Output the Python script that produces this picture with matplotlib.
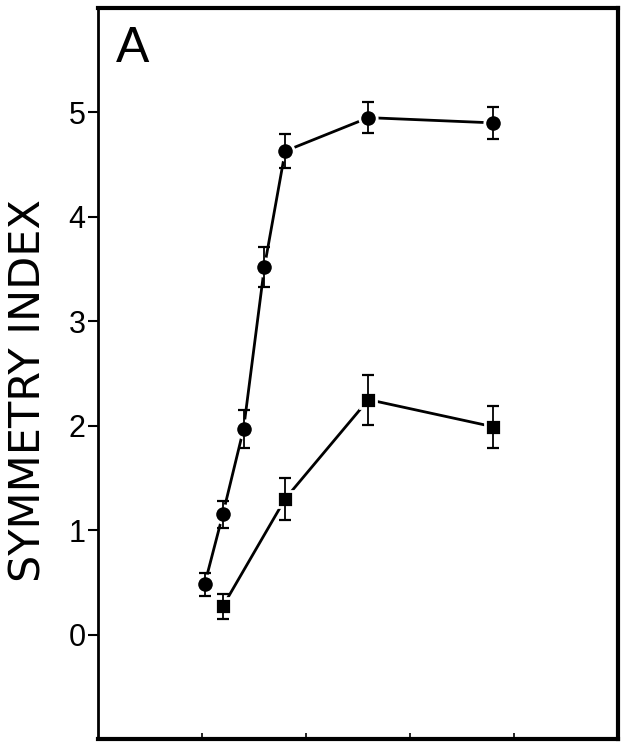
import matplotlib
matplotlib.use("Agg")
import matplotlib.pyplot as plt

# Time points (days) and symmetry index values
days_circle = [0.25, 2, 4, 6, 8, 16, 28]
sym_circle = [0.48, 1.15, 1.97, 3.52, 4.63, 4.95, 4.90]
err_circle = [0.11, 0.13, 0.18, 0.19, 0.16, 0.15, 0.15]

days_square = [2, 8, 16, 28]
sym_square = [0.27, 1.30, 2.25, 1.99]
err_square = [0.12, 0.20, 0.24, 0.20]

y_ticks = [0, 1, 2, 3, 4, 5]
x_ticks = [0, 10, 20, 30]

plt.rcParams['font.family'] = ['Liberation Sans', 'DejaVu Sans']

fig = plt.figure(figsize=(6.21, 7.43), dpi=100)
ax = fig.add_axes([98 / 621, 4 / 743, 520 / 621, 731 / 743])

for x, y, e, m, ms in [(days_circle, sym_circle, err_circle, 'o', 12.5),
                       (days_square, sym_square, err_square, 's', 12)]:
    ax.plot(x, y, color='black', lw=2.0, zorder=1)
    ax.plot(x, y, linestyle='none', marker=m, ms=ms, mfc='black',
            mec='white', mew=2.0, zorder=2)
    ax.errorbar(x, y, yerr=e, fmt='none', ecolor='black', elinewidth=1.3,
                capsize=4.5, capthick=1.6, zorder=3)

ax.set_xlim(-10, 40)
ax.set_ylim(-1, 6)
ax.set_yticks(y_ticks)
ax.set_yticklabels([str(v) for v in y_ticks], fontsize=22)
ax.set_xticks(x_ticks)
ax.set_xticklabels([])
ax.tick_params(axis='y', direction='out', length=7, width=1.5, pad=2)
ax.tick_params(axis='x', direction='in', length=4, width=1.2)

for side, w in [('left', 2.0), ('bottom', 3.0), ('top', 3.0), ('right', 3.0)]:
    ax.spines[side].set_linewidth(w)

fig.text(29 / 621, 1 - 391 / 743, 'SYMMETRY INDEX', rotation=90,
         fontsize=31, family='DejaVu Sans', ha='center', va='center')
ax.text(0.035, 0.975, 'A', transform=ax.transAxes, fontsize=36,
        ha='left', va='top')

fig.savefig('out.png', dpi=100)
